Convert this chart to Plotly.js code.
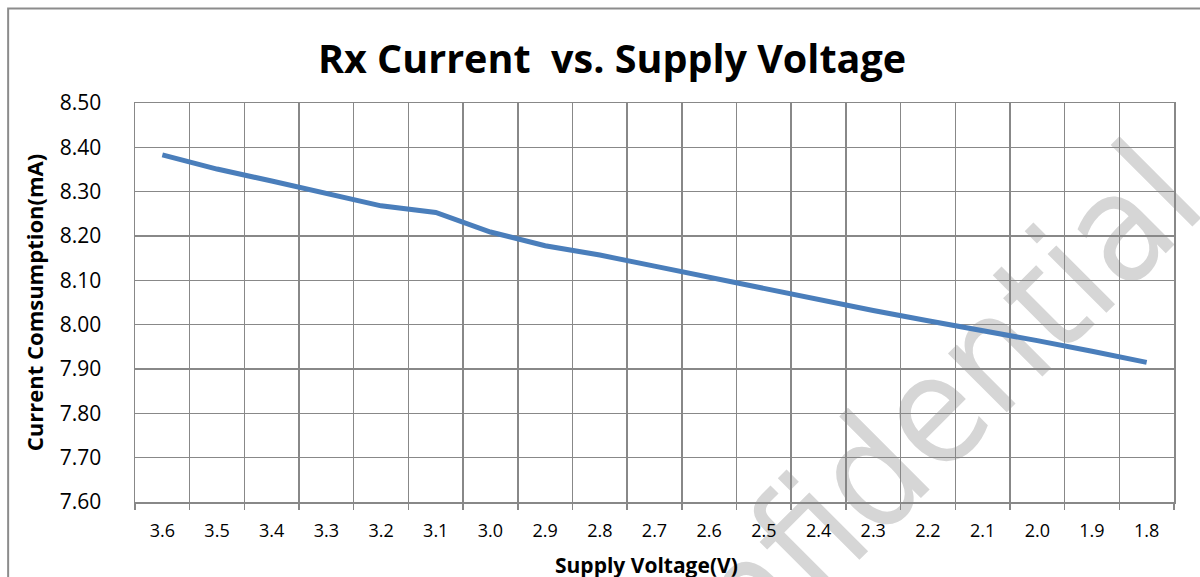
<!DOCTYPE html>
<html>
<head>
<meta charset="utf-8">
<script src="https://cdn.plot.ly/plotly-3.0.1.min.js"></script>
<style>html,body{margin:0;padding:0;background:#fff;}#chart{width:1200px;height:577px;}</style>
</head>
<body>
<div id="chart"></div>
<script>
const voltages = ["3.6","3.5","3.4","3.3","3.2","3.1","3.0","2.9","2.8","2.7","2.6","2.5","2.4","2.3","2.2","2.1","2.0","1.9","1.8"];
const currentMA = [8.383,8.351,8.324,8.295,8.268,8.253,8.209,8.178,8.157,8.132,8.107,8.082,8.056,8.032,8.009,7.987,7.964,7.940,7.915];
const yTickVals = [7.6,7.7,7.8,7.9,8.0,8.1,8.2,8.3,8.4,8.5];
const yTickText = ["7.60","7.70","7.80","7.90","8.00","8.10","8.20","8.30","8.40","8.50"];

const FONT = "Open Sans, sans-serif";
const GRID = "#888888";

const trace = {
  type: "scatter",
  mode: "lines",
  x: voltages,
  y: currentMA,
  line: {color: "#4a7ebb", width: 5},
  hoverinfo: "x+y"
};

const layout = {
  width: 1200,
  height: 577,
  margin: {l: 135, r: 26, t: 103, b: 75},
  paper_bgcolor: "#ffffff",
  plot_bgcolor: "rgba(0,0,0,0)",
  showlegend: false,
  font: {family: FONT, color: "#000"},
  title: {
    text: "<b>Rx Current\u00a0 vs. Supply Voltage</b>",
    font: {family: FONT, size: 39.5, color: "#000"},
    x: 0.51, xanchor: "center",
    y: 0.897, yanchor: "middle"
  },
  xaxis: {
    type: "category",
    tickson: "boundaries",
    ticks: "outside",
    ticklen: 6,
    tickcolor: GRID,
    tickwidth: 1.5,
    showgrid: true,
    gridcolor: GRID,
    gridwidth: 1.5,
    showline: true,
    linecolor: GRID,
    linewidth: 1.5,
    mirror: true,
    tickfont: {family: FONT, size: 18, color: "#000"},
    ticklabelstandoff: 12,
    range: [-0.5, 18.5],
    fixedrange: true
  },
  yaxis: {
    range: [7.6, 8.5],
    tickvals: yTickVals,
    ticktext: yTickText,
    ticks: "",
    showgrid: true,
    gridcolor: GRID,
    gridwidth: 1.5,
    showline: true,
    linecolor: GRID,
    linewidth: 1.5,
    mirror: true,
    zeroline: false,
    tickfont: {family: FONT, size: 21, color: "#000"},
    ticklabelstandoff: 28,
    title: {text: "<b>Current Comsumption(mA)</b>", font: {family: FONT, size: 22, color: "#000"}, standoff: 10},
    fixedrange: true
  },
  annotations: [
    {
      text: "<b>Supply Voltage(V)</b>",
      xref: "paper", yref: "paper",
      x: 0.492, y: -0.157,
      xanchor: "center", yanchor: "middle",
      showarrow: false,
      font: {family: FONT, size: 21, color: "#000"}
    }
  ],
  shapes: [
    {
      type: "rect", xref: "paper", yref: "paper", layer: "below",
      x0: -0.1221, x1: 1.1, y0: -0.3, y1: 1.237,
      line: {color: "#8c8c8c", width: 2}, fillcolor: "rgba(0,0,0,0)"
    },
    {
      type: "line", xref: "paper", yref: "paper", layer: "below",
      x0: 0.5077, y0: -0.4135, x1: 0.9154, y1: 0.6491,
      line: {color: "rgba(0,0,0,0)", width: 0},
      label: {
        text: "Confidential",
        textangle: -45,
        textposition: "middle",
        yanchor: "middle",
        xanchor: "center",
        padding: 0,
        font: {family: "Liberation Sans Narrow, DejaVu Sans Condensed, Open Sans, sans-serif", size: 152, color: "#d6d6d6"}
      }
    }
  ]
};

Plotly.newPlot("chart", [trace], layout, {displayModeBar: false, staticPlot: true});
</script>
</body>
</html>
